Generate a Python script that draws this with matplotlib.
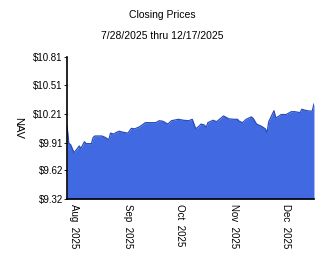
import numpy as np
import pandas as pd
import matplotlib
matplotlib.use("Agg")
import matplotlib.pyplot as plt
import matplotlib.dates as mdates

plt.rcParams['font.family'] = ['Liberation Sans', 'DejaVu Sans']

# closing NAV
dates = ["2025-07-28", "2025-07-29", "2025-07-30", "2025-08-01", "2025-08-03",
         "2025-08-04", "2025-08-05", "2025-08-07", "2025-08-08", "2025-08-11",
         "2025-08-12", "2025-08-13", "2025-08-17", "2025-08-19", "2025-08-21",
         "2025-08-22", "2025-08-24", "2025-08-25", "2025-08-27", "2025-08-29",
         "2025-09-01", "2025-09-03", "2025-09-05", "2025-09-08", "2025-09-11",
         "2025-09-13", "2025-09-17", "2025-09-19", "2025-09-21", "2025-09-24",
         "2025-09-26", "2025-09-30", "2025-10-03", "2025-10-06", "2025-10-08",
         "2025-10-10", "2025-10-12", "2025-10-13", "2025-10-15", "2025-10-16",
         "2025-10-17", "2025-10-20", "2025-10-22", "2025-10-24", "2025-10-26",
         "2025-10-29", "2025-11-01", "2025-11-03", "2025-11-04", "2025-11-06",
         "2025-11-08", "2025-11-11", "2025-11-12", "2025-11-14", "2025-11-17",
         "2025-11-19", "2025-11-20", "2025-11-21", "2025-11-24", "2025-11-25",
         "2025-11-27", "2025-11-28", "2025-12-01", "2025-12-04", "2025-12-06",
         "2025-12-09", "2025-12-10", "2025-12-13", "2025-12-16", "2025-12-17"]
nav = [10.08, 9.903, 9.89, 9.805, 9.85,
       9.875, 9.85, 9.92, 9.90, 9.90,
       9.965, 9.98, 9.98, 9.965, 9.94,
       10.01, 10.00, 10.015, 10.03, 10.02,
       10.01, 10.06, 10.055, 10.08, 10.12,
       10.12, 10.12, 10.14, 10.135, 10.105,
       10.14, 10.155, 10.145, 10.14, 10.155,
       10.055, 10.085, 10.105, 10.095, 10.07,
       10.12, 10.145, 10.13, 10.16, 10.19,
       10.16, 10.155, 10.155, 10.135, 10.12,
       10.155, 10.18, 10.165, 10.105, 10.08,
       10.055, 10.015, 10.13, 10.245, 10.17,
       10.19, 10.205, 10.205, 10.235, 10.235,
       10.225, 10.26, 10.245, 10.24, 10.315]

yticks = [9.32, 9.62, 9.91, 10.21, 10.51, 10.81]
month_ticks = ["2025-08-01", "2025-09-01", "2025-10-01", "2025-11-01", "2025-12-01"]
month_labels = ["Aug  2025", "Sep  2025", "Oct  2025", "Nov  2025", "Dec  2025"]

x = pd.to_datetime(dates)

fig = plt.figure(figsize=(3.24, 2.67), dpi=100)
ax = fig.add_axes([0.207, 0.255, 0.762, 0.532])

ax.fill_between(x, nav, yticks[0], color='#4169e1', linewidth=0)
ax.plot(x, nav, color='#2a4cbc', linewidth=0.9)

ax.set_xlim(x[0], x[-1])
ax.set_ylim(yticks[0], yticks[-1])
ax.set_yticks(yticks)
ax.set_yticklabels(["${:.2f}".format(v) for v in yticks], fontsize=7)
ax.set_xticks(pd.to_datetime(month_ticks))
ax.set_xticklabels(month_labels, rotation=270, fontsize=7, va='top', ha='center')
ax.tick_params(axis='y', length=2, width=0.6, pad=1)
ax.tick_params(axis='x', length=0, pad=4)

for s in ['top', 'right']:
    ax.spines[s].set_visible(False)
for s in ['left', 'bottom']:
    ax.spines[s].set_linewidth(1.2)

ax.set_ylabel("NAV", rotation=270, fontsize=8, va='center')
ax.yaxis.set_label_coords(-0.2, 0.5)

fig.text(0.5, 0.945, "Closing Prices", ha='center', va='center', fontsize=7.5)
fig.text(0.5, 0.865, "7/28/2025 thru 12/17/2025", ha='center', va='center', fontsize=7.5)

fig.savefig("out.png", dpi=100)
